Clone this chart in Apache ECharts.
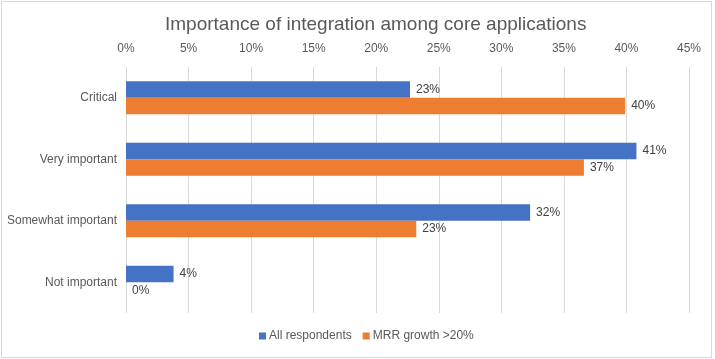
<!DOCTYPE html>
<html>
<head>
<meta charset="utf-8">
<script src="https://cdn.jsdelivr.net/npm/echarts@6/dist/echarts.min.js"></script>
<style>
html,body{margin:0;padding:0;background:#fff;}
#wrap{position:absolute;left:1px;top:1px;width:711px;height:357px;border:1px solid #d9d9d9;box-sizing:border-box;}
#c{position:absolute;left:0;top:0;width:715px;height:359px;}
</style>
</head>
<body>
<div id="wrap"></div>
<div id="c"></div>
<script>
var categories = ['Critical', 'Very important', 'Somewhat important', 'Not important'];
var allRespondents = [22.7, 40.8, 32.3, 3.8];
var mrrGrowth = [39.9, 36.6, 23.2, 0];
var seriesNames = ['All respondents', 'MRR growth >20%'];

var chart = echarts.init(document.getElementById('c'));
var font = 'Helvetica, Arial, "Liberation Sans", sans-serif';
var lbl = {show: true, position: 'right', distance: 6, color: '#404040', fontSize: 12, fontFamily: font,
  formatter: function(p){ return Math.round(p.value) + '%'; }};
chart.setOption({
  animation: false,
  title: {text: 'Importance of integration among core applications', left: 160, top: 10,
    textStyle: {fontSize: 19, fontWeight: 'normal', color: '#595959', fontFamily: font}},
  legend: {bottom: 12, left: 254, itemWidth: 7, itemHeight: 7, itemGap: 11, icon: 'rect',
    textStyle: {fontSize: 12, color: '#595959', fontFamily: font, padding: [0, 0, 0, -2]}, data: seriesNames},
  grid: {left: 126, right: 26, top: 67, bottom: 46},
  xAxis: {type: 'value', position: 'top', min: 0, max: 45, interval: 5,
    axisLine: {show: false}, axisTick: {show: false},
    axisLabel: {formatter: '{value}%', color: '#595959', fontSize: 12, fontFamily: font, margin: 12},
    splitLine: {lineStyle: {color: '#d9d9d9', width: 1}}},
  yAxis: {type: 'category', data: categories, inverse: true,
    axisLine: {show: false}, axisTick: {show: false},
    axisLabel: {color: '#595959', fontSize: 12, fontFamily: font, margin: 9}},
  series: [
    {name: seriesNames[0], type: 'bar', data: allRespondents, barGap: '0%', barCategoryGap: '46%',
      itemStyle: {color: '#4472C4'}, label: lbl},
    {name: seriesNames[1], type: 'bar', data: mrrGrowth, barGap: '0%', barCategoryGap: '46%',
      itemStyle: {color: '#ED7D31'}, label: lbl}
  ]
});
</script>
</body>
</html>
